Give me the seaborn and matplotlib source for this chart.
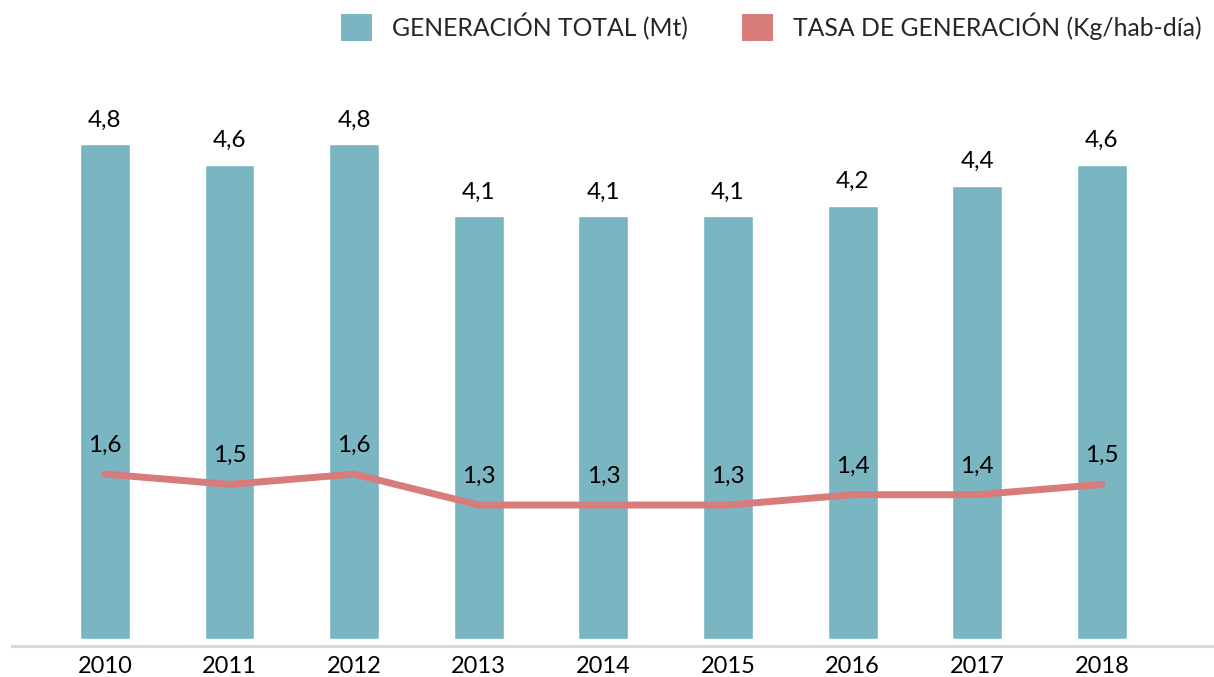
import numpy as np
import matplotlib
matplotlib.use("Agg")
import matplotlib.pyplot as plt
from matplotlib.patches import Patch
import seaborn as sns

# Data
years = ["2010", "2011", "2012", "2013", "2014", "2015", "2016", "2017", "2018"]
total_mt = [4.8, 4.6, 4.8, 4.1, 4.1, 4.1, 4.2, 4.4, 4.6]
rate_kg = [1.6, 1.5, 1.6, 1.3, 1.3, 1.3, 1.4, 1.4, 1.5]

bar_color = "#7AB5C2"
line_color = "#D77B7B"

sns.set_theme(style="white")
plt.rcParams["font.family"] = ["Lato", "DejaVu Sans"]


def fmt(v):
    return f"{v:.1f}".replace(".", ",")


fig = plt.figure(figsize=(12.14, 6.77), dpi=100)
ax = fig.add_axes([12 / 1214, 31 / 677, 1200 / 1214, 546 / 677])

# Bars
sns.barplot(x=years, y=total_mt, color=bar_color, width=0.4, saturation=1, ax=ax)
ax.bar_label(ax.containers[0], labels=[fmt(v) for v in total_mt],
             padding=10, fontsize=17.5, color="black")

# Line
xs = np.arange(len(years))
sns.lineplot(x=xs, y=rate_kg, color=line_color, linewidth=5, ax=ax,
             solid_capstyle="round")
for x, v in zip(xs, rate_kg):
    ax.annotate(fmt(v), (x, v), xytext=(0, 16), textcoords="offset points",
                ha="center", va="baseline", fontsize=17.5, color="black")

# Axes
ax.set_xlim(-0.746, 8.884)
ax.set_ylim(-0.068, 5.23)
ax.set_yticks([])
ax.set_ylabel("")
for s in ["top", "left", "right"]:
    ax.spines[s].set_visible(False)
ax.spines["bottom"].set_color("#D9D9D9")
ax.spines["bottom"].set_linewidth(2.2)
ax.tick_params(axis="x", length=0, pad=7, labelsize=17, labelcolor="black")

# Legend
handles = [Patch(facecolor=bar_color, edgecolor="none"),
           Patch(facecolor=line_color, edgecolor="none")]
fig.legend(handles, ["GENERACIÓN TOTAL (Mt)", "TASA DE GENERACIÓN (Kg/hab-día)"],
           loc="upper right", bbox_to_anchor=(1.0, 1.0), ncol=2, frameon=False,
           fontsize=17.8, handlelength=1.25, handleheight=1.25, handletextpad=0.8,
           columnspacing=2.2, borderaxespad=0.1)

fig.savefig("out.png", dpi=100)
